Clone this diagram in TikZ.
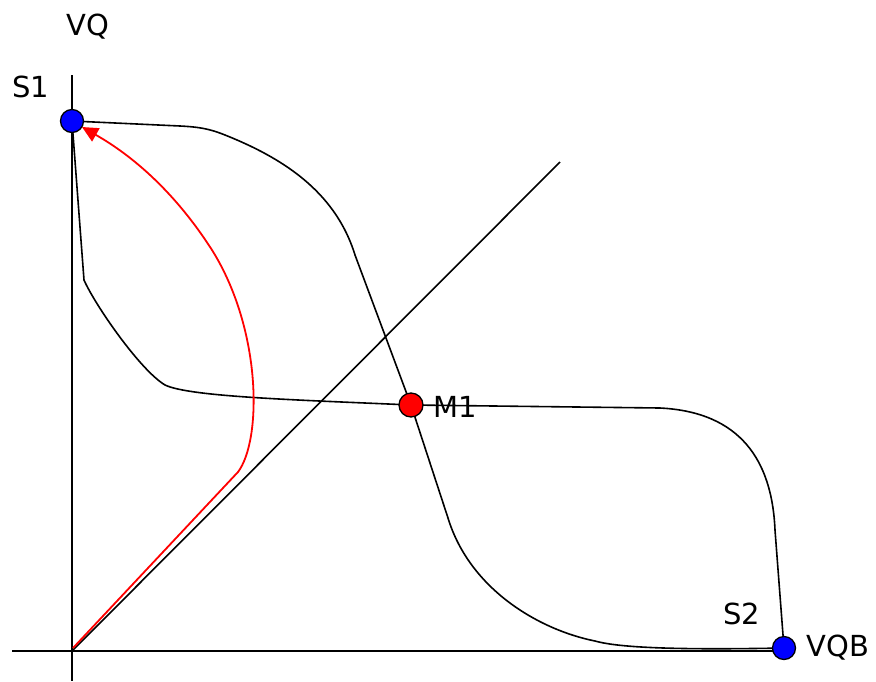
\documentclass[tikz,border=0pt]{standalone}
\usepackage{fontspec}
\setmainfont{DejaVu Sans}
\usetikzlibrary{arrows.meta}
\begin{document}
\begin{tikzpicture}[x=1pt,y=-1pt,
  dotb/.style={circle,draw=black,fill=blue,line width=1.3pt,inner sep=0pt,minimum size=23pt},
  dotr/.style={circle,draw=black,fill=red,line width=1.3pt,inner sep=0pt,minimum size=24pt},
  lbl/.style={font=\fontsize{29}{32}\selectfont,inner sep=0pt},
  ln/.style={line width=1.6pt,black},
  rl/.style={line width=1.8pt,red}]
\useasboundingbox (0,0) rectangle (876,681);
% axes
\coordinate (ytop) at (72,75);
\coordinate (ybot) at (72,681);
\coordinate (xl) at (12,651);
\coordinate (o) at (72,651);
\coordinate (dg) at (560,162);
\draw[ln] (ytop) -- (ybot);
\draw[ln] (xl) -- (784,651);
\draw[ln] (o) -- (dg);
% curves
\coordinate (s1c) at (72,121);
\coordinate (m1c) at (411,405);
\coordinate (s2c) at (784,648);
\draw[ln] (s1c) -- (180,126) .. controls (200,127) and (210,129) .. (225,135) .. controls (280,157) and (335,190) .. (355,255) -- (m1c)
  -- (448,518) .. controls (470,590) and (540,630) .. (595,641) .. controls (620,648) and (680,650) .. (s2c);
\draw[ln] (s1c) -- (84,280) .. controls (95,305) and (140,370) .. (165,385) .. controls (190,397) and (300,400) .. (m1c)
  -- (660,408) .. controls (740,412) and (772,460) .. (775,530) -- (s2c);
\draw[rl,-{Triangle[length=16pt,width=15pt]}] (73,648) -- (238,472) .. controls (262,440) and (262,330) .. (212,250) .. controls (180,200) and (140,160) .. (82,127);
% dots
\node[dotb] (S1) at (s1c) {};
\node[dotr] (M1) at (m1c) {};
\node[dotb] (S2) at (s2c) {};
% labels
\node[lbl] (lVQ) at (88,27) {VQ};
\node[lbl] (lS1) at (31,87) {S1};
\node[lbl] (lM1) at (455,407) {M1};
\node[lbl] (lS2) at (742,614) {S2};
\node[lbl] (lVQB) at (838,648) {VQB};
\end{tikzpicture}
\end{document}
